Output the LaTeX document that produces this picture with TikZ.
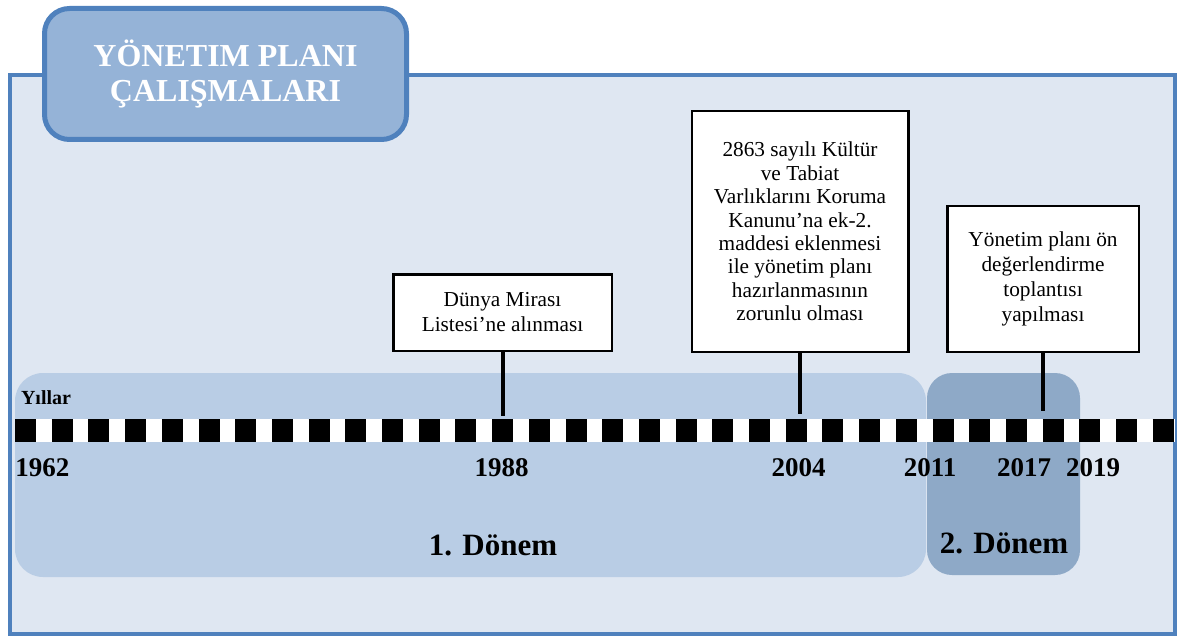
\documentclass[tikz,border=0pt]{standalone}
\usepackage{fontspec}
\setmainfont{Liberation Serif}
\definecolor{framefill}{HTML}{DFE7F2}
\definecolor{frameline}{HTML}{4F81BD}
\definecolor{titlefill}{HTML}{95B3D7}
\definecolor{donemone}{HTML}{B9CDE5}
\definecolor{donemtwo}{HTML}{8EA9C7}

\begin{document}
\begin{tikzpicture}[x=1pt,y=-1pt,
		olay/.style={draw=black, line width=2.5pt, fill=white, align=center, inner sep=0pt,
			font=\fontsize{21.3}{25}\selectfont},
		yil/.style={inner sep=0pt, font=\fontsize{27}{30}\selectfont\bfseries},
		donem/.style={inner sep=0pt, font=\fontsize{31}{34}\selectfont\bfseries},
		stem/.style={line width=4pt}]
				\useasboundingbox (0,0) rectangle (1177,636);
				% cerceve ve baslik
				\draw [frameline, fill=framefill, line width=4pt] (9.5,75.5) rectangle (1175,634);
				\node [draw=frameline, line width=5pt, fill=titlefill, rounded corners=25pt,
					minimum width=362pt, minimum height=131pt, text=white, align=center,
					font=\fontsize{32}{35}\selectfont\bfseries] (baslik) at (225.5,74) {YÖNETIM PLANI\\ÇALIŞMALARI};
				% donemler
				\fill [donemone, rounded corners=28pt] (15,373) rectangle (926,577);
				\fill [donemtwo, rounded corners=25pt] (927,373) rectangle (1080,575);
				\node [donem] (d1) at (493,545) {1. Dönem};
				\node [donem] (d2) at (1004,543) {2. Dönem};
				% zaman cizgisi
				\coordinate (bas) at (15,430.5);
				\coordinate (son) at (1175,430.5);
				\draw [white, line width=23pt] (bas) -- (son);
				\draw [black, line width=23pt, dash pattern=on 21pt off 15.7pt] (bas) -- (son);
				\node [inner sep=0pt, font=\fontsize{20}{22}\selectfont\bfseries] (yillar) at (46,398) {Yıllar};
				\node [yil] (y1962) at (42.5,468) {1962};
				\node [yil] (y1988) at (501.5,468) {1988};
				\node [yil] (y2004) at (798.5,468) {2004};
				\node [yil] (y2011) at (930,468) {2011};
				\node [yil] (y2017) at (1024,468) {2017};
				\node [yil] (y2019) at (1093,468) {2019};
				% olaylar
				\node [olay, minimum width=218.5pt, minimum height=76.5pt] (dunya) at (502.5,312.5)
					{Dünya Mirası\\Listesi’ne alınması};
				\node [olay, minimum width=216.5pt, minimum height=240.5pt,
					font=\fontsize{21.3}{23.4}\selectfont] (kanun) at (800,231.5)
					{2863 sayılı Kültür\\ve Tabiat\\Varlıklarını Koruma\\Kanunu’na ek-2.\\maddesi eklenmesi\\ile yönetim planı\\hazırlanmasının\\zorunlu olması};
				\node [olay, minimum width=191.5pt, minimum height=145.5pt] (toplanti) at (1043,279)
					{Yönetim planı ön\\değerlendirme\\toplantısı\\yapılması};
				\coordinate (t1988) at (502.5,416);
				\coordinate (t2004) at (800,414);
				\coordinate (t2017) at (1043,411);
				\draw [stem] (dunya.south) -- (t1988);
				\draw [stem] (kanun.south) -- (t2004);
				\draw [stem] (toplanti.south) -- (t2017);
				\end{tikzpicture}
\end{document}
